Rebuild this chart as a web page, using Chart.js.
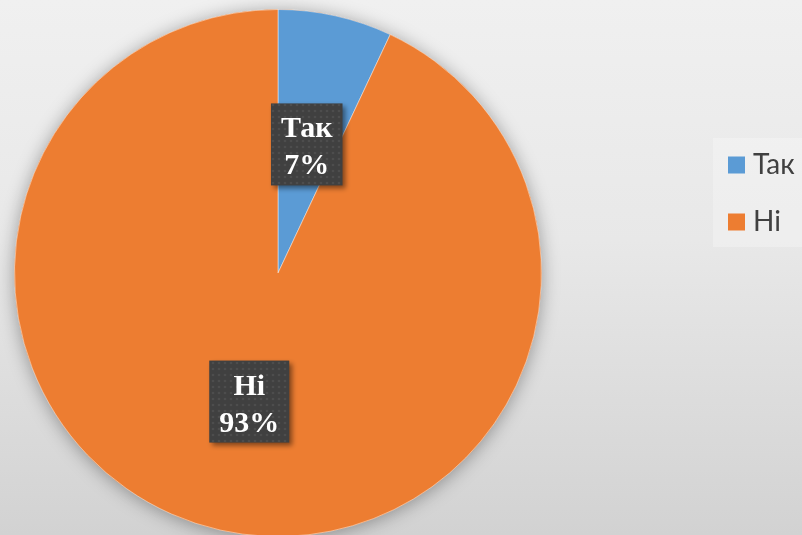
<!DOCTYPE html>
<html>
<head>
<meta charset="utf-8">
<script src="https://cdn.jsdelivr.net/npm/chart.js@4/dist/chart.umd.min.js"></script>
<style>
  html, body { margin: 0; padding: 0; width: 802px; height: 535px; overflow: hidden; }
  body { background: linear-gradient(180deg, #f0f0f0 0%, #e8e8e8 45%, #d2d2d2 100%); position: relative; }
  #wrap { position: absolute; left: 0; top: 0; width: 802px; height: 540px; }
</style>
</head>
<body>
<div id="wrap"><canvas id="c" width="802" height="540"></canvas></div>
<script>
const categories = ['Так', 'Ні'];
const values = [7, 93];
const percentLabels = ['7%', '93%'];
const colors = ['#5b9bd5', '#ed7d31'];

function makePattern(ctx) {
  const p = document.createElement('canvas');
  p.width = 6; p.height = 6;
  const pc = p.getContext('2d');
  pc.fillStyle = '#404040';
  pc.fillRect(0, 0, 6, 6);
  pc.fillStyle = '#4d4d4d';
  pc.beginPath(); pc.arc(3, 3, 1.3, 0, Math.PI * 2); pc.fill();
  return ctx.createPattern(p, 'repeat');
}

const shadowPlugin = {
  id: 'pieShadow',
  beforeDatasetsDraw(chart) {
    const arc = chart.getDatasetMeta(0).data[0];
    if (!arc) return;
    const ctx = chart.ctx;
    ctx.save();
    ctx.shadowColor = 'rgba(0,0,0,0.35)';
    ctx.shadowBlur = 18;
    ctx.shadowOffsetX = 0;
    ctx.shadowOffsetY = 2;
    ctx.fillStyle = '#ed7d31';
    ctx.beginPath();
    ctx.arc(arc.x, arc.y, arc.outerRadius, 0, Math.PI * 2);
    ctx.fill();
    ctx.restore();
  }
};

const labelPlugin = {
  id: 'boxLabels',
  afterDatasetsDraw(chart) {
    const ctx = chart.ctx;
    const pattern = makePattern(ctx);
    const meta = chart.getDatasetMeta(0);
    meta.data.forEach((arc, i) => {
      const pos = arc.tooltipPosition();
      const lines = [categories[i], percentLabels[i]];
      ctx.save();
      ctx.font = 'bold 30px "Liberation Serif", "Times New Roman", serif';
      const w = Math.max(...lines.map(l => ctx.measureText(l).width)) + 20;
      const lh = 37;
      const h = lh * 2 + 8;
      const x = pos.x - w / 2, y = pos.y - h / 2;
      ctx.shadowColor = 'rgba(0,0,0,0.45)';
      ctx.shadowBlur = 5;
      ctx.shadowOffsetX = 3;
      ctx.shadowOffsetY = 3;
      ctx.fillStyle = pattern;
      ctx.fillRect(x, y, w, h);
      ctx.shadowColor = 'transparent';
      ctx.fillStyle = '#ffffff';
      ctx.textAlign = 'center';
      ctx.textBaseline = 'alphabetic';
      ctx.fillText(lines[0], pos.x, y + 34);
      ctx.fillText(lines[1], pos.x, y + 34 + lh);
      ctx.restore();
    });
  }
};

const legendPlugin = {
  id: 'sideLegend',
  afterDraw(chart) {
    const ctx = chart.ctx;
    ctx.save();
    ctx.fillStyle = 'rgba(255,255,255,0.25)';
    ctx.fillRect(713, 138, 95, 109);
    ctx.font = '28px Lato, "Open Sans", sans-serif';
    ctx.textBaseline = 'middle';
    ctx.textAlign = 'left';
    categories.forEach((c, i) => {
      const cy = 165 + i * 57;
      ctx.fillStyle = colors[i];
      ctx.fillRect(728, cy - 8.5, 17, 17);
      ctx.fillStyle = '#404040';
      ctx.fillText(c, 753, cy);
    });
    ctx.restore();
  }
};

new Chart(document.getElementById('c'), {
  type: 'pie',
  data: {
    labels: categories,
    datasets: [{
      data: values,
      backgroundColor: colors,
      borderColor: 'rgba(255,255,255,0.45)',
      borderWidth: 1
    }]
  },
  options: {
    responsive: false,
    animation: false,
    layout: { padding: { left: 14, right: 260, top: 9, bottom: 3 } },
    plugins: {
      legend: { display: false },
      tooltip: { enabled: false }
    }
  },
  plugins: [shadowPlugin, labelPlugin, legendPlugin]
});
</script>
</body>
</html>
